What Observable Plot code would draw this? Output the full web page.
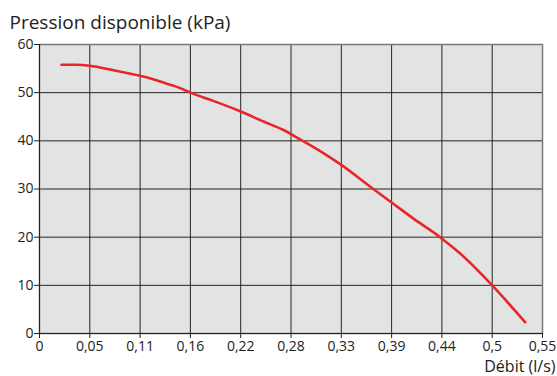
<!DOCTYPE html>
<html>
<head>
<meta charset="utf-8">
<script src="https://cdn.jsdelivr.net/npm/d3@7"></script>
<script src="https://cdn.jsdelivr.net/npm/@observablehq/plot@0.6"></script>
<style>
  html, body { margin: 0; padding: 0; background: #fff; }
  svg { display: block; }
</style>
</head>
<body>
<div id="chart"></div>
<script>
// Flow (l/s)
const debit = [0.024, 0.04, 0.055, 0.08, 0.11, 0.126, 0.14, 0.153, 0.165, 0.19, 0.22, 0.245, 0.265, 0.285, 0.31, 0.33, 0.365, 0.385, 0.41, 0.438, 0.46, 0.495, 0.531];
// Available pressure (kPa)
const pression = [55.8, 55.8, 55.6, 54.7, 53.5, 52.7, 51.8, 51.0, 50.0, 48.3, 46.1, 44.0, 42.4, 40.3, 37.5, 35.0, 30.0, 27.2, 23.7, 20.0, 16.6, 10.0, 2.35];

const xTickValues = [0, 0.055, 0.11, 0.165, 0.22, 0.275, 0.33, 0.385, 0.44, 0.495, 0.55];
const xTickLabels = ["0", "0,05", "0,11", "0,16", "0,22", "0,28", "0,33", "0,39", "0,44", "0,5", "0,55"];
const yTickValues = [0, 10, 20, 30, 40, 50, 60];

const titleText = "Pression disponible (kPa)";
const xLabelText = "Débit (l/s)";

const data = debit.map((d, i) => ({x: d, y: pression[i]}));

const chart = Plot.plot({
  width: 557,
  height: 376,
  marginLeft: 39,
  marginRight: 15,
  marginTop: 44,
  marginBottom: 43,
  style: {fontFamily: "'Open Sans', sans-serif", fontSize: "14px", color: "#222", background: "#fff"},
  x: {domain: [0, 0.55], label: null},
  y: {domain: [0, 60], label: null},
  marks: [
    Plot.frame({fill: "#e2e3e3", stroke: null}),
    Plot.gridX(xTickValues, {stroke: "#111", strokeOpacity: 0.9}),
    Plot.gridY(yTickValues, {stroke: "#111", strokeOpacity: 0.9}),
    Plot.frame({stroke: "#7a7a7a", strokeWidth: 1.5}),
    Plot.ruleX([0], {stroke: "#222"}),
    Plot.ruleY([0], {stroke: "#222"}),
    Plot.axisX({ticks: xTickValues, tickFormat: (d) => xTickLabels[xTickValues.indexOf(d)], tickSize: 5, tickPadding: 3, fontSize: 14, stroke: "#222"}),
    Plot.axisY({ticks: yTickValues, tickSize: 5, tickPadding: 1, fontSize: 14, stroke: "#222"}),
    Plot.line(data, {x: "x", y: "y", stroke: "#e8262a", strokeWidth: 2.6, curve: "monotone-x"}),
    Plot.text([titleText], {frameAnchor: "top-left", dx: -30, dy: -16, textAnchor: "start", lineAnchor: "bottom", fontSize: 19, fill: "#222"}),
    Plot.text([xLabelText], {frameAnchor: "bottom-right", dx: 13, dy: 38.5, textAnchor: "end", lineAnchor: "bottom", fontSize: 16, fill: "#222"})
  ]
});
document.getElementById("chart").appendChild(chart);
</script>
</body>
</html>
